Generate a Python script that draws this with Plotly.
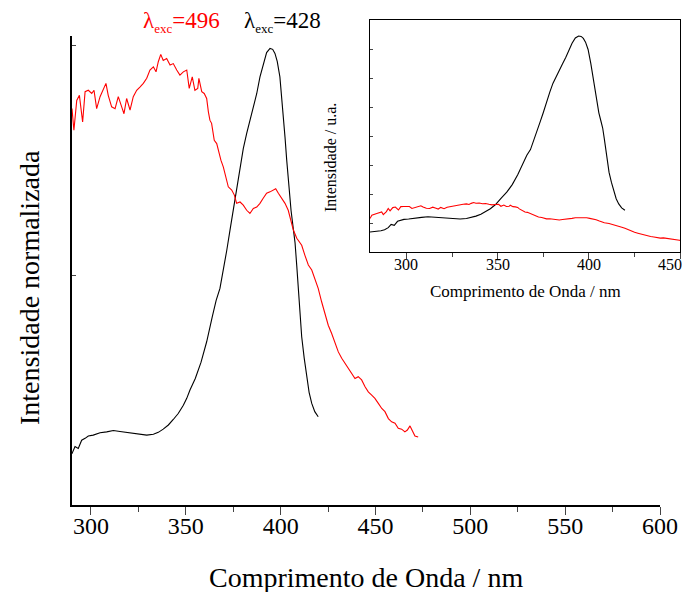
import plotly.graph_objects as go

# ---------------- data ----------------
# Excitation at 428 nm (black) – normalized emission
black_nm = [280, 282, 284, 286, 288, 290, 291.6, 293.3, 295.1, 296.9, 298.6, 301.2, 304.8,
            308.3, 311.8, 315.3, 318.8, 322.3, 325.8, 329.4, 332.9, 335.5, 338.1, 340.8,
            343.4, 346, 348.7, 350.5, 352.2, 355, 358, 361, 364, 366, 368, 369.8, 371.6,
            373.3, 375, 376.8, 378.6, 380.3, 382.1, 383.8, 385.6, 387.4, 389.1, 390.8,
            392.6, 394.4, 395.8, 397, 398.2, 399.6, 401.1, 402.3, 403.2, 404.2, 405.5,
            406.7, 407.6, 408.5, 409.3, 410.2, 411.1, 412.4, 413.7, 415, 416.4, 418, 419.8]
black_int = [0.092, 0.093, 0.094, 0.098, 0.102, 0.112, 0.127, 0.123, 0.141, 0.145, 0.150,
             0.152, 0.157, 0.159, 0.162, 0.160, 0.158, 0.156, 0.154, 0.152, 0.154, 0.158,
             0.165, 0.174, 0.186, 0.199, 0.217, 0.232, 0.250, 0.275, 0.310, 0.355, 0.410,
             0.445, 0.471, 0.511, 0.554, 0.598, 0.640, 0.690, 0.735, 0.775, 0.808, 0.837,
             0.866, 0.895, 0.931, 0.960, 0.984, 0.993, 0.991, 0.982, 0.965, 0.931, 0.866,
             0.800, 0.750, 0.700, 0.640, 0.600, 0.570, 0.520, 0.475, 0.420, 0.366, 0.320,
             0.279, 0.245, 0.221, 0.203, 0.192]

# Excitation at 496 nm (red) – normalized emission
red_nm = [280, 281, 283.7, 286.4, 287.3, 289, 290, 291, 292.5, 293.9, 295.6, 296.9, 298.6,
          300.4, 301.6, 303, 304.8, 306.5, 307.9, 309.1, 310.9, 312.7, 314.4, 316.2, 317.4,
          318.8, 320.6, 322.3, 324.1, 325.8, 327.6, 329.4, 331.1, 332.9, 334.3, 335.5,
          336.8, 338.1, 339.9, 341.7, 343.4, 345.2, 346.9, 348.7, 350.5, 351.8, 353.4,
          354.8, 356.3, 356.9, 358.4, 359.7, 361, 361.9, 362.7, 363.6, 365, 366.3, 367.1,
          368.5, 369.8, 371, 372.4, 374.2, 375.6, 376.8, 378.6, 380.3, 382.1, 383.8,
          385.6, 387.4, 389.1, 390.8, 392.6, 394.4, 396.1, 397.4, 398.8, 400.5, 402.3,
          404, 405.8, 406.7, 408.5, 411.1, 412.8, 414.6, 416.4, 418.1, 419.8, 421.6,
          423.4, 425.1, 426.9, 428.6, 430.4, 432.2, 433.9, 435.7, 437.4, 439.2, 440.9,
          442.7, 444.5, 446.2, 448, 449.7, 451.5, 453.3, 455, 456.8, 458.5, 460.3, 462,
          463.8, 465.5, 466.8, 468.2, 469.6, 470.8, 472.5]
red_int = [0.663, 0.730, 0.762, 0.794, 0.741, 0.800, 0.862, 0.815, 0.880, 0.891, 0.833,
           0.899, 0.902, 0.895, 0.902, 0.862, 0.888, 0.906, 0.917, 0.891, 0.866, 0.862,
           0.888, 0.866, 0.851, 0.884, 0.859, 0.888, 0.902, 0.909, 0.917, 0.928, 0.946,
           0.953, 0.942, 0.964, 0.980, 0.967, 0.971, 0.957, 0.960, 0.946, 0.935, 0.942,
           0.946, 0.906, 0.931, 0.902, 0.906, 0.928, 0.899, 0.895, 0.884, 0.855, 0.837,
           0.830, 0.793, 0.786, 0.772, 0.750, 0.735, 0.717, 0.692, 0.685, 0.674, 0.656,
           0.659, 0.652, 0.641, 0.634, 0.645, 0.648, 0.656, 0.667, 0.678, 0.681, 0.685,
           0.688, 0.678, 0.667, 0.656, 0.641, 0.615, 0.598, 0.580, 0.565, 0.543, 0.522,
           0.511, 0.489, 0.471, 0.442, 0.417, 0.391, 0.373, 0.355, 0.333, 0.319, 0.308,
           0.297, 0.286, 0.275, 0.279, 0.272, 0.257, 0.246, 0.239, 0.232, 0.221, 0.210,
           0.203, 0.188, 0.181, 0.178, 0.167, 0.165, 0.159, 0.163, 0.172, 0.159, 0.150,
           0.148]

# Inset shows the raw (non-normalized) intensities in arbitrary units
inset_black_factor = 7.5
inset_red_factor = 1.74

main_xticks = [300, 350, 400, 450, 500, 550, 600]
inset_xticks = [300, 350, 400, 450]
inset_xlabels = ["300", "350", "400", "450"]

# ---------------- figure ----------------
# the html page has an 8px body margin, so the figure is made 8px smaller and
# all page positions below are converted accordingly
OFF = 8
W, H = 690 - OFF, 592 - OFF
FONT = "Liberation Serif"


def fx(p):
    return (p - OFF) / W


def fy(p):
    return 1 - (p - OFF) / H


fig = go.Figure()
fig.add_trace(go.Scatter(x=black_nm, y=black_int, mode="lines",
                         line=dict(color="#000000", width=1.1), xaxis="x", yaxis="y"))
fig.add_trace(go.Scatter(x=red_nm, y=red_int, mode="lines",
                         line=dict(color="#ff0000", width=1.1), xaxis="x", yaxis="y"))
fig.add_trace(go.Scatter(x=black_nm, y=[v * inset_black_factor for v in black_int], mode="lines",
                         line=dict(color="#000000", width=1.1), xaxis="x2", yaxis="y2"))
fig.add_trace(go.Scatter(x=red_nm, y=[v * inset_red_factor for v in red_int], mode="lines",
                         line=dict(color="#ff0000", width=1.1), xaxis="x2", yaxis="y2"))

fig.update_layout(
    width=W, height=H,
    margin=dict(l=0, r=0, t=0, b=0, autoexpand=False),
    paper_bgcolor="white", plot_bgcolor="white",
    showlegend=False,
    font=dict(family=FONT, color="black"),
    xaxis=dict(domain=[fx(72), fx(660)], range=[290, 600], anchor="y", automargin=False,
               tickvals=main_xticks, ticks="outside", ticklen=8, tickwidth=1.2,
               ticklabelstandoff=-10,
               minor=dict(ticks="outside", ticklen=5, tickwidth=1.2, dtick=25, tick0=300),
               showline=True, linewidth=2, linecolor="black", showgrid=False, zeroline=False,
               tickfont=dict(size=24, family=FONT, color="black")),
    yaxis=dict(domain=[fy(505), fy(36)], range=[0, 1.02], anchor="x", automargin=False,
               tickvals=[0.5, 1.0], ticks="inside", ticklen=4, tickwidth=1,
               showticklabels=False, showline=True, linewidth=2, linecolor="black",
               showgrid=False, zeroline=False),
    # inset: tick labels drawn as annotations so the last one (450) is not dropped at the edge
    xaxis2=dict(domain=[fx(370), fx(680)], range=[280, 450], anchor="y2", automargin=False,
                tickvals=inset_xticks, showticklabels=False, ticks="outside", ticklen=6,
                tickwidth=1,
                minor=dict(ticks="outside", ticklen=4, tickwidth=1, dtick=25, tick0=300),
                showline=True, mirror=True, linewidth=1, linecolor="black",
                showgrid=False, zeroline=False),
    yaxis2=dict(domain=[fy(252), fy(20)], range=[0, 8], anchor="x2", automargin=False,
                dtick=1, tick0=0, ticks="inside", ticklen=3, tickwidth=1,
                showticklabels=False, showline=True, mirror=True, linewidth=1,
                linecolor="black", showgrid=False, zeroline=False),
)

annotations = [
    dict(text="Comprimento de Onda / nm", x=fx(366), y=fy(577), xref="paper", yref="paper",
         showarrow=False, font=dict(size=28, family=FONT), xanchor="center", yanchor="middle"),
    dict(text="Intensidade normalizada", x=fx(30), y=fy(288), xref="paper", yref="paper",
         showarrow=False, textangle=-90, font=dict(size=28, family=FONT),
         xanchor="center", yanchor="middle"),
    dict(text="Comprimento de Onda / nm", x=fx(525), y=fy(292), xref="paper", yref="paper",
         showarrow=False, font=dict(size=17, family=FONT), xanchor="center", yanchor="middle"),
    dict(text="Intensidade / u.a.", x=fx(330), y=fy(158), xref="paper", yref="paper",
         showarrow=False, textangle=-90, font=dict(size=16, family=FONT),
         xanchor="center", yanchor="middle"),
    dict(text="λ<sub><span style='font-size:13px'>exc</span></sub>=496", x=fx(141), y=fy(22),
         xref="paper", yref="paper", showarrow=False, xanchor="left", yanchor="middle",
         font=dict(size=23, family=FONT, color="#ff0000")),
    dict(text="λ<sub><span style='font-size:13px'>exc</span></sub>=428", x=fx(242), y=fy(22),
         xref="paper", yref="paper", showarrow=False, xanchor="left", yanchor="middle",
         font=dict(size=23, family=FONT, color="#000000")),
]
for v, lab in zip(inset_xticks, inset_xlabels):
    last = v == inset_xticks[-1]
    annotations.append(dict(text=lab, x=v, xref="x2", y=fy(264), yref="paper",
                            showarrow=False, xanchor="right" if last else "center",
                            xshift=4 if last else 0, yanchor="middle",
                            font=dict(size=16, family=FONT, color="black")))
fig.update_layout(annotations=annotations)

fig.write_html("out.html")
